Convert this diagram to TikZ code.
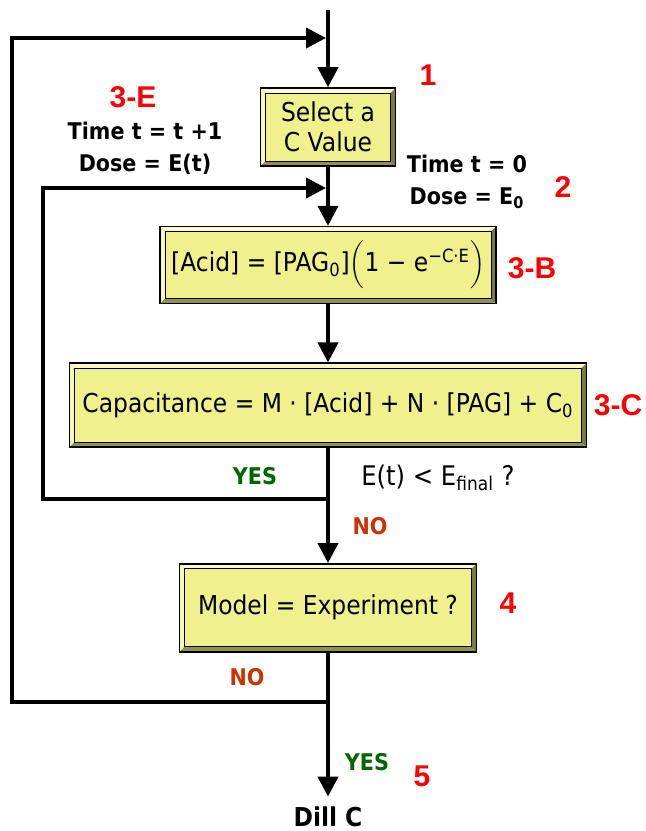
\documentclass[tikz,border=0pt]{standalone}
\usepackage{fontspec}
\setmainfont{DejaVu Sans}[FakeStretch=0.9]
\newfontfamily\lblfont{Liberation Sans}
\usepackage{xcolor}
\usepackage{tikz}
\usetikzlibrary{arrows.meta,positioning,calc}
\definecolor{jauneB}{RGB}{240,240,140}
\definecolor{jauneC}{RGB}{250,250,205}
\definecolor{oliveF}{RGB}{145,145,75}
\definecolor{vertO}{RGB}{0,102,0}
\definecolor{rougeN}{RGB}{204,51,0}
\newcommand{\bevw}{2.5pt}
\newcommand{\txb}{\fontsize{13}{15}\selectfont}
\tikzset{
  bevelbox/.style={rectangle, draw=black, line width=0.8pt, fill=jauneB, align=center,
    font=\txb, inner sep=0pt,
    path picture={
      \coordinate (pnw) at (path picture bounding box.north west);
      \coordinate (pne) at (path picture bounding box.north east);
      \coordinate (psw) at (path picture bounding box.south west);
      \coordinate (pse) at (path picture bounding box.south east);
      \fill[jauneC] (pnw) -- (pne) -- ([shift={(-\bevw,-\bevw)}]pne) -- ([shift={(\bevw,-\bevw)}]pnw) -- cycle;
      \fill[jauneC!70!jauneB] (pnw) -- (psw) -- ([shift={(\bevw,\bevw)}]psw) -- ([shift={(\bevw,-\bevw)}]pnw) -- cycle;
      \fill[oliveF] (psw) -- (pse) -- ([shift={(-\bevw,\bevw)}]pse) -- ([shift={(\bevw,\bevw)}]psw) -- cycle;
      \fill[oliveF!85!black] (pse) -- (pne) -- ([shift={(-\bevw,-\bevw)}]pne) -- ([shift={(-\bevw,\bevw)}]pse) -- cycle;
      \draw[line width=0.4pt] ([shift={(\bevw,-\bevw)}]pnw) rectangle ([shift={(-\bevw,\bevw)}]pse);
    }},
  flux/.style={line width=2pt, -{Triangle[length=10pt,width=10pt]}},
  repere/.style={text=red, font=\lblfont\bfseries\fontsize{15}{15}\selectfont},
  etape/.style={font=\bfseries\fontsize{11.5}{16}\selectfont, align=center},
  oui/.style={text=vertO, font=\bfseries\fontsize{11.5}{13}\selectfont},
  non/.style={text=rougeN, font=\bfseries\fontsize{11.5}{13}\selectfont},
}

\begin{document}
\begin{tikzpicture}[x=0.5pt, y=-0.5pt]
  \useasboundingbox (0,0) rectangle (646,831);
  \node[bevelbox, minimum width=67.5pt, minimum height=39pt] (sel) at (328,127) {Select a\\C Value};
  \node[bevelbox, minimum width=168pt, minimum height=38.5pt, below=29.5pt of sel] (acid)
    {[Acid] = [PAG\textsubscript{0}]$\left(\rule[-9pt]{0pt}{24pt}\mbox{1 − e\textsuperscript{−C·E}}\right)$};
  \node[bevelbox, minimum width=258.5pt, minimum height=42pt, below=29pt of acid] (capac)
    {Capacitance = M · [Acid] + N · [PAG] + C\textsubscript{0}};
  \node[bevelbox, minimum width=148.5pt, minimum height=44pt, below=57.5pt of capac] (model)
    {Model = Experiment ?};
  \node[font=\bfseries\fontsize{13}{15}\selectfont, inner sep=5pt, below=72pt of model] (dill) {Dill C};

  \coordinate (top) at (328,10);
  \coordinate (in0) at (328,38);
  \coordinate (in1) at (328,188);
  \coordinate (j1) at (328,499);
  \coordinate (j2) at (328,702);

  \draw[flux] (top) -- (sel);
  \draw[flux] (sel) -- (acid);
  \draw[flux] (acid) -- (capac);
  \draw[flux] (capac) -- (model);
  \draw[flux] (model) -- (dill);
  \draw[flux, shorten >=1pt] (j1) -- ++(-285,0) |- (in1);
  \draw[flux, shorten >=1pt] (j2) -- ++(-316,0) |- (in0);

  \node[repere] (n1) at (428,75) {1};
  \node[repere] (n3e) at (133,97) {3-E};
  \node[etape] (tinc) at (145,148) {Time t = t +1\\Dose = E(t)};
  \node[etape] (tzero) at (467,182) {Time t = 0\\Dose = E\textsubscript{0}};
  \node[repere] (n2) at (563,187) {2};
  \node[repere] (n3b) at (532,268) {3-B};
  \node[repere] (n3c) at (618,405) {3-C};
  \node[oui] (oui1) at (255,476) {YES};
  \node[font=\fontsize{13.5}{15}\selectfont] (cond) at (438,478) {E(t) < E\textsubscript{final} ?};
  \node[non] (non1) at (370,526) {NO};
  \node[repere] (n4) at (508,603) {4};
  \node[non] (non2) at (247,677) {NO};
  \node[oui] (oui2) at (367,762) {YES};
  \node[repere] (n5) at (422,776) {5};
\end{tikzpicture}
\end{document}
